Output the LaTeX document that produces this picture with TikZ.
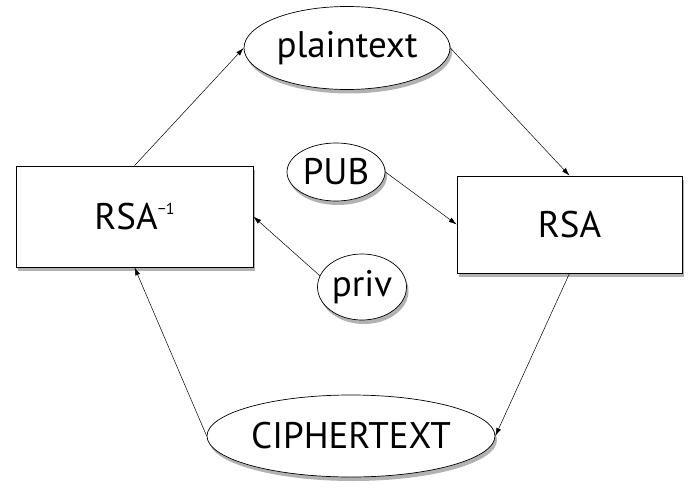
\documentclass[tikz,border=0pt]{standalone}
\usepackage{fontspec}
\setmainfont{PT Sans}
\usetikzlibrary{shapes.geometric,shadows,arrows.meta}
\newcommand{\supinv}{\raisebox{15pt}{\fontsize{16}{16}\selectfont −1}}
\tikzset{
  every picture/.style={x=1pt,y=-1pt},
  shape base/.style={draw=black,line width=0.7pt,fill=white,inner sep=0pt,
    font=\fontsize{37}{40}\selectfont,
    drop shadow={shadow xshift=2pt,shadow yshift=-4pt,fill=black,opacity=0.3}},
  oval/.style={shape base,ellipse},
  boxnode/.style={shape base,rectangle},
  conn/.style={line width=0.5pt,-{Latex[length=8pt,width=5pt]}}
}
\begin{document}
\begin{tikzpicture}
\useasboundingbox (0,0) rectangle (700,500);
\node[oval,minimum width=206pt,minimum height=83pt] (plain) at (347,48) {plaintext};
\node[oval,minimum width=98pt,minimum height=58pt] (pub) at (336,172) {PUB};
\node[oval,minimum width=89pt,minimum height=66pt] (priv) at (362,287) {priv};
\node[boxnode,minimum width=237pt,minimum height=101pt] (rsainv) at (134.5,216.5) {RSA\supinv};
\node[boxnode,minimum width=225pt,minimum height=97pt] (rsa) at (569.5,224.5) {RSA};
\node[oval,minimum width=288pt,minimum height=82pt] (cipher) at (351,436) {CIPHERTEXT};
\draw[conn] (rsainv.north) -- (plain.west);
\draw[conn] (plain.east) -- (rsa.north);
\draw[conn] (pub.east) -- (rsa.west);
\draw[conn] (priv.165) -- (rsainv.east);
\draw[conn] (rsa.south) -- (cipher.east);
\draw[conn] (cipher.west) -- (rsainv.south);
\end{tikzpicture}
\end{document}
